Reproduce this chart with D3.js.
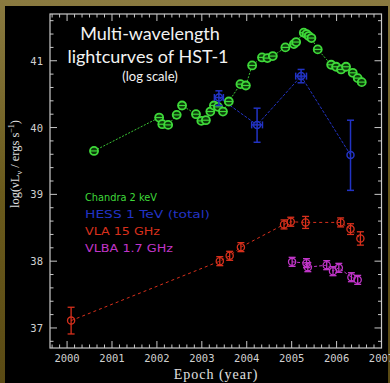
<!DOCTYPE html>
<html>
<head>
<meta charset="utf-8">
<script src="https://cdn.jsdelivr.net/npm/d3@7"></script>
<style>
  html, body { margin: 0; padding: 0; background: #6a5a22; }
  svg { display: block; }
</style>
</head>
<body>
<div id="chart"></div>
<script>
// ---- data ----
var chandraYear = [2000.60, 2002.05, 2002.12, 2002.25, 2002.44, 2002.56, 2002.87, 2002.99, 2003.09,
    2003.19, 2003.27, 2003.36, 2003.47, 2003.60, 2003.86, 2003.98, 2004.12, 2004.34, 2004.46, 2004.58,
    2004.86, 2005.05, 2005.10, 2005.27, 2005.33, 2005.38, 2005.44, 2005.58, 2005.88, 2005.99, 2006.10,
    2006.21, 2006.36, 2006.47, 2006.56];
var chandraLog = [39.65, 40.15, 40.05, 40.04, 40.19, 40.33, 40.20, 40.10, 40.11,
    40.24, 40.33, 40.31, 40.24, 40.39, 40.65, 40.63, 40.93, 41.05, 41.04, 41.07,
    41.20, 41.25, 41.28, 41.42, 41.40, 41.37, 41.34, 41.17, 40.94, 40.91, 40.87,
    40.91, 40.82, 40.74, 40.68];

var hessYear = [2003.38, 2004.23, 2005.21, 2006.31];
var hessLog = [40.45, 40.04, 40.77, 39.59];
var hessErrHi = [0.10, 0.25, 0.10, 0.52];
var hessErrLo = [0.12, 0.26, 0.10, 0.53];
var hessErrX = [0.10, 0.12, 0.12, 0];

var vlaYear = [2000.09, 2003.40, 2003.62, 2003.87, 2004.83, 2004.98, 2005.31, 2006.09, 2006.31, 2006.53];
var vlaLog = [37.11, 38.00, 38.08, 38.21, 38.55, 38.59, 38.58, 38.58, 38.48, 38.34];
var vlaErr = [0.20, 0.04, 0.04, 0.05, 0.06, 0.05, 0.09, 0.05, 0.08, 0.10];

var vlbaYear = [2005.01, 2005.33, 2005.36, 2005.78, 2005.92, 2006.05, 2006.33, 2006.47];
var vlbaLog = [37.99, 37.97, 37.91, 37.94, 37.85, 37.90, 37.76, 37.72];
var vlbaErr = [0.04, 0.04, 0.04, 0.04, 0.04, 0.04, 0.04, 0.04];

var xTicks = [2000, 2001, 2002, 2003, 2004, 2005, 2006, 2007];
var yTicks = [37, 38, 39, 40, 41];
var legendLabels = ['Chandra 2 keV', 'HESS 1 TeV (total)', 'VLA 15 GHz', 'VLBA 1.7 GHz'];
var legendWidths = [72, 125, 75, 88];
var seriesColors = ['#3fd93a', '#2233c4', '#d8301c', '#c035c8'];

// ---- layout ----
var W = 390, H = 383;
var plotL = 50, plotR = 381.5, plotT = 14, plotB = 348;
var axisColor = '#c8c8c8';

var svg = d3.select('#chart').append('svg')
    .attr('width', W)
    .attr('height', H);

var defs = svg.append('defs');
var grad = defs.append('linearGradient').attr('id', 'frameGrad')
    .attr('x1', 0).attr('y1', 0).attr('x2', 0).attr('y2', 1);
grad.append('stop').attr('offset', '0%').attr('stop-color', '#8a7a40');
grad.append('stop').attr('offset', '50%').attr('stop-color', '#6a5a1c');
grad.append('stop').attr('offset', '100%').attr('stop-color', '#5a4a14');

svg.append('rect').attr('width', W).attr('height', H).attr('fill', 'url(#frameGrad)');
svg.append('rect').attr('x', 5).attr('y', 6).attr('width', 383).attr('height', H - 6).attr('fill', '#000');

var x = d3.scaleLinear().domain([1999.62, 2007]).range([plotL, plotR]);
var y = d3.scaleLinear().domain([36.7, 41.7]).range([plotB, plotT]);

// frame
svg.append('rect')
    .attr('x', plotL).attr('y', plotT)
    .attr('width', plotR - plotL).attr('height', plotB - plotT)
    .attr('fill', 'none').attr('stroke', axisColor).attr('stroke-width', 1.2);

// minor ticks: 2 months on x, 0.2 dex on y
var xMinor = d3.range(2000 * 6 - 2, 2007 * 6 + 1).map(function (d) { return d / 6; })
    .filter(function (d) { return x(d) > plotL + 1 && x(d) < plotR - 1; });
var yMinor = d3.range(37 * 5 - 1, 41 * 5 + 4).map(function (d) { return d / 5; })
    .filter(function (d) { return y(d) > plotT + 1 && y(d) < plotB - 1; });

function isMajor(d) { return Math.abs(d - Math.round(d)) < 1e-6; }

var ticks = svg.append('g').attr('stroke', axisColor).attr('stroke-width', 1);
xMinor.forEach(function (d) {
    var len = isMajor(d) ? 7 : 3.5;
    ticks.append('line').attr('x1', x(d)).attr('x2', x(d)).attr('y1', plotB).attr('y2', plotB - len);
    ticks.append('line').attr('x1', x(d)).attr('x2', x(d)).attr('y1', plotT).attr('y2', plotT + len);
});
yMinor.forEach(function (d) {
    var len = isMajor(d) ? 7 : 3.5;
    ticks.append('line').attr('y1', y(d)).attr('y2', y(d)).attr('x1', plotL).attr('x2', plotL + len);
    ticks.append('line').attr('y1', y(d)).attr('y2', y(d)).attr('x1', plotR).attr('x2', plotR - len);
});

// tick labels
var tickFont = '"DejaVu Sans Mono", monospace';
svg.append('g').selectAll('text').data(xTicks).join('text')
    .attr('x', function (d) { return x(d); })
    .attr('y', 362)
    .attr('text-anchor', 'middle')
    .attr('font-family', tickFont).attr('font-size', 10.5)
    .attr('fill', '#d0d0d0')
    .text(function (d) { return d; });
svg.append('g').selectAll('text').data(yTicks).join('text')
    .attr('x', 43)
    .attr('y', function (d) { return y(d) + 4; })
    .attr('text-anchor', 'end')
    .attr('font-family', tickFont).attr('font-size', 10.5)
    .attr('fill', '#d0d0d0')
    .text(function (d) { return d; });

// axis titles
svg.append('text')
    .attr('x', 216).attr('y', 379)
    .attr('text-anchor', 'middle')
    .attr('font-family', '"Liberation Serif", serif').attr('font-size', 14)
    .attr('letter-spacing', 1)
    .attr('fill', '#e0e0e0')
    .text('Epoch (year)');

var yl = svg.append('text')
    .attr('transform', 'translate(19,164) rotate(-90)')
    .attr('text-anchor', 'middle')
    .attr('font-family', '"Liberation Serif", serif').attr('font-size', 12.5)
    .attr('fill', '#e0e0e0');
yl.append('tspan').text('log(\u03BDL');
yl.append('tspan').attr('font-size', 8).attr('dy', 3).text('\u03BD');
yl.append('tspan').attr('dy', -3).text(' / ergs s');
yl.append('tspan').attr('font-size', 8).attr('dy', -5).text('\u22121');
yl.append('tspan').attr('dy', 5).text(')');

// title
var titleFont = 'Lato, "Open Sans", sans-serif';
svg.append('text').attr('x', 150).attr('y', 40).attr('text-anchor', 'middle')
    .attr('font-family', titleFont).attr('font-size', 18).attr('fill', '#f2f2f2')
    .text('Multi-wavelength');
svg.append('text').attr('x', 148).attr('y', 63).attr('text-anchor', 'middle')
    .attr('font-family', titleFont).attr('font-size', 18).attr('fill', '#f2f2f2')
    .text('lightcurves of HST-1');
svg.append('text').attr('x', 150).attr('y', 81).attr('text-anchor', 'middle')
    .attr('font-family', titleFont).attr('font-size', 13).attr('fill', '#f2f2f2')
    .text('(log scale)');

// ---- series ----
var line = d3.line()
    .x(function (d) { return x(d[0]); })
    .y(function (d) { return y(d[1]); });

function zip(a, b) { return a.map(function (v, i) { return [v, b[i]]; }); }

var plot = svg.append('g');

// connecting lines
plot.append('path').datum(zip(chandraYear, chandraLog))
    .attr('d', line).attr('fill', 'none')
    .attr('stroke', seriesColors[0]).attr('stroke-width', 0.9).attr('stroke-dasharray', '2,1.5');
plot.append('path').datum(zip(hessYear, hessLog))
    .attr('d', line).attr('fill', 'none')
    .attr('stroke', seriesColors[1]).attr('stroke-width', 1).attr('stroke-dasharray', '3,1.5');
plot.append('path').datum(zip(vlaYear, vlaLog))
    .attr('d', line).attr('fill', 'none')
    .attr('stroke', seriesColors[2]).attr('stroke-width', 1).attr('stroke-dasharray', '3,3');
plot.append('path').datum(zip(vlbaYear, vlbaLog))
    .attr('d', line).attr('fill', 'none')
    .attr('stroke', seriesColors[3]).attr('stroke-width', 1).attr('stroke-dasharray', '3,2');

// chandra markers: circle with horizontal bar
var cg = plot.append('g').attr('stroke', seriesColors[0]).attr('fill', 'none');
chandraYear.forEach(function (yr, i) {
    var cx = x(yr), cy = y(chandraLog[i]);
    cg.append('circle').attr('cx', cx).attr('cy', cy).attr('r', 4)
        .attr('stroke-width', 1.8).attr('fill', '#0c3a0a');
    cg.append('line').attr('x1', cx - 4.5).attr('x2', cx + 4.5).attr('y1', cy).attr('y2', cy)
        .attr('stroke-width', 1.2);
});

// hess markers: circle with x and y error bars
var hg = plot.append('g').attr('stroke', seriesColors[1]).attr('fill', 'none').attr('stroke-width', 1.5);
hessYear.forEach(function (yr, i) {
    var cx = x(yr), cy = y(hessLog[i]);
    var yTop = y(hessLog[i] + hessErrHi[i]), yBot = y(hessLog[i] - hessErrLo[i]);
    hg.append('circle').attr('cx', cx).attr('cy', cy).attr('r', 3.5);
    hg.append('line').attr('x1', cx).attr('x2', cx).attr('y1', yTop).attr('y2', yBot);
    hg.append('line').attr('x1', cx - 3.5).attr('x2', cx + 3.5).attr('y1', yTop).attr('y2', yTop);
    hg.append('line').attr('x1', cx - 3.5).attr('x2', cx + 3.5).attr('y1', yBot).attr('y2', yBot);
    if (hessErrX[i] > 0) {
        var xl = x(yr - hessErrX[i]), xr = x(yr + hessErrX[i]);
        hg.append('line').attr('x1', xl).attr('x2', xr).attr('y1', cy).attr('y2', cy);
        hg.append('line').attr('x1', xl).attr('x2', xl).attr('y1', cy - 3.5).attr('y2', cy + 3.5);
        hg.append('line').attr('x1', xr).attr('x2', xr).attr('y1', cy - 3.5).attr('y2', cy + 3.5);
    }
});

// radio markers: circle with vertical error bar and caps
function radioMarkers(years, vals, errs, color) {
    var g = plot.append('g').attr('stroke', color).attr('fill', 'none').attr('stroke-width', 1.3);
    years.forEach(function (yr, i) {
        var cx = x(yr), cy = y(vals[i]);
        var yTop = Math.min(y(vals[i] + errs[i]), cy - 4.5), yBot = Math.max(y(vals[i] - errs[i]), cy + 4.5);
        g.append('circle').attr('cx', cx).attr('cy', cy).attr('r', 3.6);
        g.append('line').attr('x1', cx).attr('x2', cx).attr('y1', yTop).attr('y2', yBot);
        g.append('line').attr('x1', cx - 3.5).attr('x2', cx + 3.5).attr('y1', yTop).attr('y2', yTop);
        g.append('line').attr('x1', cx - 3.5).attr('x2', cx + 3.5).attr('y1', yBot).attr('y2', yBot);
    });
}
radioMarkers(vlaYear, vlaLog, vlaErr, seriesColors[2]);
radioMarkers(vlbaYear, vlbaLog, vlbaErr, seriesColors[3]);

// legend
svg.append('g').selectAll('text').data(legendLabels).join('text')
    .attr('x', 85)
    .attr('y', function (d, i) { return 201 + i * 16.9; })
    .attr('font-family', '"DejaVu Sans", sans-serif').attr('font-size', 11)
    .attr('textLength', function (d, i) { return legendWidths[i]; })
    .attr('lengthAdjust', 'spacingAndGlyphs')
    .attr('fill', function (d, i) { return seriesColors[i]; })
    .text(function (d) { return d; });
</script>
</body>
</html>
